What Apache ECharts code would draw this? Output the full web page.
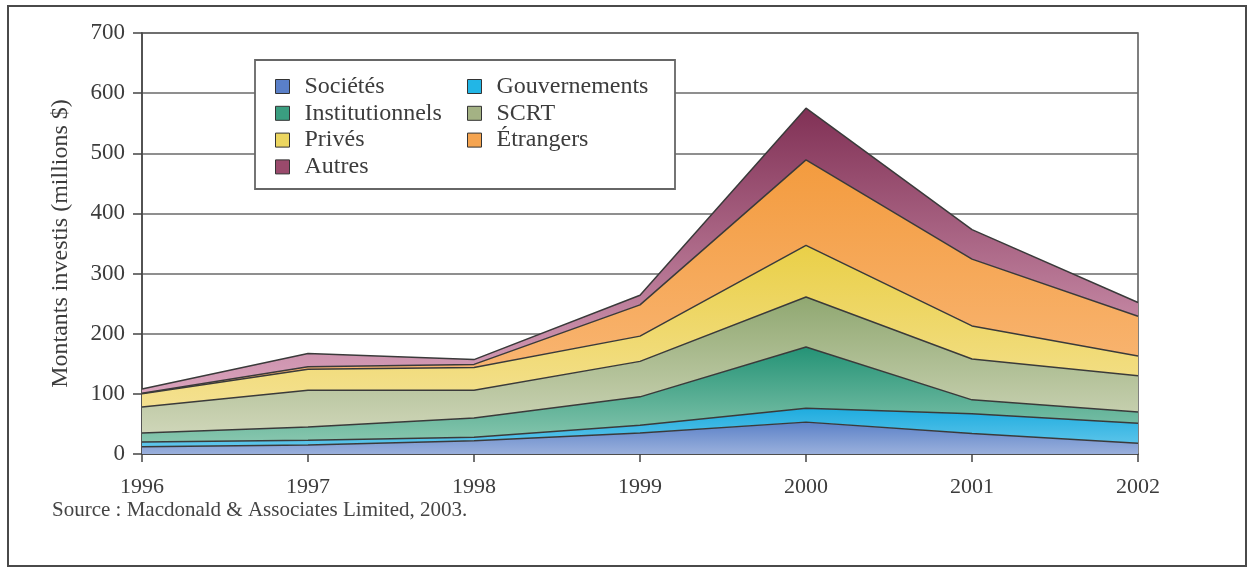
<!DOCTYPE html>
<html>
<head>
<meta charset="utf-8">
<script src="https://cdn.jsdelivr.net/npm/echarts@6/dist/echarts.min.js"></script>
<style>
html,body{margin:0;padding:0;background:#fff;}
#chart{width:1253px;height:571px;}
</style>
</head>
<body>
<div id="chart"></div>
<script>
const years = ['1996','1997','1998','1999','2000','2001','2002'];
const yTicks = [0,100,200,300,400,500,600,700];
const societes = [12, 15, 22, 35, 53, 34, 18];
const gouvernements = [8, 8, 6, 13, 23, 33, 33];
const institutionnels = [15, 22, 32, 47, 102, 23, 19];
const scrt = [43, 61, 46, 59, 83, 68, 60];
const prives = [22, 35, 38, 42, 86, 55, 33];
const etrangers = [1, 4, 5, 52, 142, 111, 66];
const autres = [7, 22, 8, 16, 86, 49, 23];
const names = ['Sociétés','Gouvernements','Institutionnels','SCRT','Privés','Étrangers','Autres'];
const values = [societes, gouvernements, institutionnels, scrt, prives, etrangers, autres];

const FONT = "'Liberation Serif','Times New Roman',serif";
const TXT = '#3c3c3c';

function grad(y1, y2, c1, c2){
  return {type:'linear', x:0, y:y1, x2:0, y2:y2, global:true,
    colorStops:[{offset:0,color:c1},{offset:1,color:c2}]};
}
const fills = [
  grad(410, 454, '#4470c0', '#9ab0dc'),
  grad(400, 454, '#10a6dc', '#6ccbed'),
  grad(340, 450, '#1d8f72', '#90cbb3'),
  grad(280, 440, '#88a268', '#d2d8bc'),
  grad(240, 420, '#e9cf45', '#f5e296'),
  grad(150, 400, '#f39a3c', '#f9b878'),
  grad(100, 400, '#7e2d52', '#dca6bf')
];
const solids = ['#5a7fc8','#22b6e6','#3a9e80','#a4b284','#ecd660','#f5a450','#9a4a6c'];

const series = names.map((n,i)=>({
  name:n, type:'line', stack:'total', data:values[i],
  symbol:'none', smooth:false,
  lineStyle:{color:'#3a3a3a', width:1.5},
  areaStyle:{color:fills[i], opacity:1},
  itemStyle:{color:solids[i]},
  z: 2
}));

const legendCommon = {
  orient:'vertical', padding:0, itemWidth:14, itemHeight:14, itemGap:2.8,
  icon:'rect', z:20,
  textStyle:{fontFamily:FONT, fontSize:24, lineHeight:24, color:TXT, padding:[0,0,0,10]},
  itemStyle:{borderColor:'#333', borderWidth:1}
};
const col1 = ['Sociétés','Institutionnels','Privés','Autres'];
const col2 = ['Gouvernements','SCRT','Étrangers'];

const chart = echarts.init(document.getElementById('chart'), null, {renderer:'canvas'});
chart.setOption({
  animation:false,
  backgroundColor:'#fff',
  grid:{left:142, right:115, top:33, bottom:117, show:true, borderColor:'#555', borderWidth:1.5, containLabel:false},
  xAxis:{
    type:'category', data:years, boundaryGap:false,
    axisLine:{lineStyle:{color:'#444', width:1.5}},
    axisTick:{show:true, length:8, alignWithLabel:true, lineStyle:{color:'#444', width:1.5}},
    axisLabel:{fontFamily:FONT, fontSize:22, color:TXT, margin:22},
    splitLine:{show:false}
  },
  yAxis:{
    type:'value', min:0, max:700, interval:100,
    name:'Montants investis (millions $)', nameLocation:'middle', nameGap:69,
    nameTextStyle:{fontFamily:FONT, fontSize:24, color:TXT},
    axisLine:{show:true, lineStyle:{color:'#444', width:1.5}},
    axisTick:{show:true, length:9, lineStyle:{color:'#444', width:1.5}},
    axisLabel:{fontFamily:FONT, fontSize:23, color:TXT, margin:17,
      formatter:(v)=> yTicks.includes(v) ? String(v) : ''},
    splitLine:{show:true, lineStyle:{color:'#6a6a6a', width:1.6}}
  },
  legend:[
    Object.assign({}, legendCommon, {left:275, top:74.5, data:col1.map(n=>({name:n, itemStyle:{color:solids[names.indexOf(n)], borderColor:'#333', borderWidth:1}}))}),
    Object.assign({}, legendCommon, {left:467, top:74.5, data:col2.map(n=>({name:n, itemStyle:{color:solids[names.indexOf(n)], borderColor:'#333', borderWidth:1}}))})
  ],
  graphic:[
    {type:'rect', shape:{x:8, y:6, width:1238, height:560}, style:{fill:'none', stroke:'#4a4a4a', lineWidth:2}, z:-1},
    {type:'rect', shape:{x:255, y:60, width:420, height:129}, style:{fill:'#fff', stroke:'#666', lineWidth:1.8}, z:3},
    {type:'text', left:52, top:500, style:{text:'Source : Macdonald & Associates Limited, 2003.', font:"21px 'Liberation Serif','Times New Roman',serif", fill:'#444'}}
  ],
  series: series
});
</script>
</body>
</html>
